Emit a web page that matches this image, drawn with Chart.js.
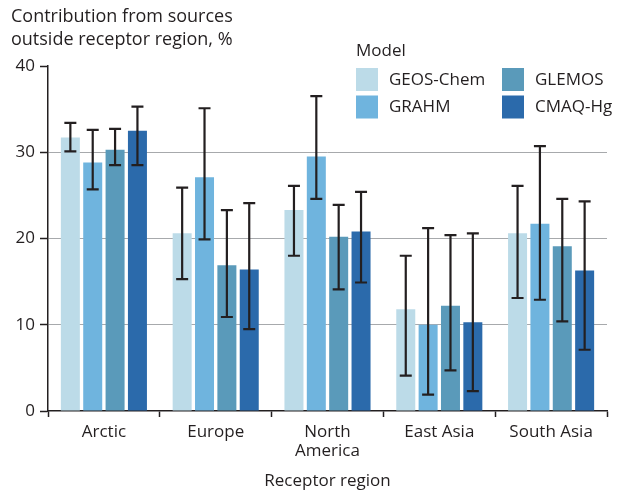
<!DOCTYPE html>
<html>
<head>
<meta charset="utf-8">
<script src="https://cdn.jsdelivr.net/npm/chart.js@4"></script>
<style>
  html, body { margin: 0; padding: 0; background: #fff; }
  #wrap { width: 626px; height: 491px; }
</style>
</head>
<body>
<div id="wrap"><canvas id="myChart" width="626" height="491"></canvas></div>
<script>
// data block
const regions = ['Arctic', 'Europe', ['North', 'America'], 'East Asia', 'South Asia'];
const models = ['GEOS-Chem', 'GRAHM', 'GLEMOS', 'CMAQ-Hg'];
const yTicks = [0, 10, 20, 30, 40];

const geosChem = [31.7, 20.6, 23.3, 11.8, 20.6];
const grahm    = [28.8, 27.1, 29.5, 10.0, 21.7];
const glemos   = [30.3, 16.9, 20.2, 12.2, 19.1];
const cmaqHg   = [32.5, 16.4, 20.8, 10.3, 16.3];

// error bar ranges (low / high)
const geosChemLow  = [30.1, 15.3, 18.0, 4.1, 13.1];
const geosChemHigh = [33.4, 25.9, 26.1, 18.0, 26.1];
const grahmLow     = [25.7, 19.9, 24.6, 1.9, 12.9];
const grahmHigh    = [32.6, 35.1, 36.5, 21.2, 30.7];
const glemosLow    = [28.5, 10.9, 14.1, 4.7, 10.4];
const glemosHigh   = [32.7, 23.3, 23.9, 20.4, 24.6];
const cmaqHgLow    = [28.5, 9.5, 14.9, 2.3, 7.1];
const cmaqHgHigh   = [35.3, 24.1, 25.4, 20.6, 24.3];

const colors = ['#bcdbe8', '#6fb4de', '#5a9aba', '#2b6aab'];
const textColor = '#231f20';
const fontFamily = "'Open Sans', sans-serif";

const seriesValues = [geosChem, grahm, glemos, cmaqHg];
const seriesLow = [geosChemLow, grahmLow, glemosLow, cmaqHgLow];
const seriesHigh = [geosChemHigh, grahmHigh, glemosHigh, cmaqHgHigh];

const data = {
  labels: regions,
  datasets: models.map((m, i) => ({
    label: m,
    data: seriesValues[i],
    low: seriesLow[i],
    high: seriesHigh[i],
    backgroundColor: colors[i],
    borderWidth: 0,
    barPercentage: 0.85,
    categoryPercentage: 0.8
  }))
};

// error bars drawn from the y scale
const errorBars = {
  id: 'errorBars',
  afterDatasetsDraw(chart) {
    const { ctx, scales: { y } } = chart;
    ctx.save();
    ctx.strokeStyle = textColor;
    ctx.lineWidth = 2.2;
    chart.data.datasets.forEach((ds, di) => {
      const meta = chart.getDatasetMeta(di);
      meta.data.forEach((bar, i) => {
        const x = bar.x;
        const yl = y.getPixelForValue(ds.low[i]);
        const yh = y.getPixelForValue(ds.high[i]);
        ctx.beginPath();
        ctx.moveTo(x, yl); ctx.lineTo(x, yh);
        ctx.moveTo(x - 6, yl); ctx.lineTo(x + 6, yl);
        ctx.moveTo(x - 6, yh); ctx.lineTo(x + 6, yh);
        ctx.stroke();
      });
    });
    ctx.restore();
  }
};

// y title + legend block
const extras = {
  id: 'extras',
  afterDraw(chart) {
    const { ctx } = chart;
    ctx.save();
    ctx.fillStyle = textColor;
    ctx.font = '18px ' + fontFamily;
    ctx.textBaseline = 'middle';
    ctx.textAlign = 'left';
    ctx.fillText('Contribution from sources', 11, 17);
    ctx.fillText('outside receptor region, %', 11, 40);

    ctx.font = '17px ' + fontFamily;
    ctx.fillText('Model', 356, 51);
    models.forEach((m, i) => {
      const col = Math.floor(i / 2), row = i % 2;
      const sx = 356 + col * 146;
      const sy = 68 + row * 27.5;
      ctx.fillStyle = colors[i];
      ctx.fillRect(sx, sy, 22, 23);
      ctx.fillStyle = textColor;
      ctx.fillText(m, sx + 33, sy + 12);
    });
    ctx.restore();
  }
};

const config = {
  type: 'bar',
  data,
  plugins: [errorBars, extras],
  options: {
    responsive: false,
    animation: false,
    layout: { padding: { left: 0, right: 19, top: 66, bottom: 0 } },
    plugins: {
      legend: { display: false },
      tooltip: { enabled: false }
    },
    scales: {
      x: {
        afterFit: (scale) => { scale.height = 80; },
        grid: {
          offset: true,
          color: 'rgba(0,0,0,0)',
          tickColor: textColor,
          tickLength: 6,
          tickWidth: 1.5
        },
        border: { color: textColor, width: 1.5 },
        ticks: {
          color: textColor,
          padding: 5,
          font: { family: fontFamily, size: 17, lineHeight: 1.15 },
          maxRotation: 0
        },
        title: {
          display: true,
          text: 'Receptor region',
          color: textColor,
          font: { family: fontFamily, size: 17, lineHeight: 1.2 },
          padding: { top: 0, bottom: 0 }
        }
      },
      y: {
        min: 0,
        max: 40,
        afterFit: (scale) => { scale.width = 48; },
        afterBuildTicks: (scale) => { scale.ticks = yTicks.map(v => ({ value: v })); },
        grid: {
          color: (c) => (c.tick && (c.tick.value === 0 || c.tick.value === 40)) ? 'rgba(0,0,0,0)' : '#a7a9ac',
          lineWidth: 1,
          tickColor: textColor,
          tickLength: 8,
          tickWidth: 1.5
        },
        border: { color: textColor, width: 1.5 },
        ticks: {
          color: textColor,
          padding: 5,
          font: { family: fontFamily, size: 17 }
        }
      }
    }
  }
};

new Chart(document.getElementById('myChart'), config);
</script>
</body>
</html>
